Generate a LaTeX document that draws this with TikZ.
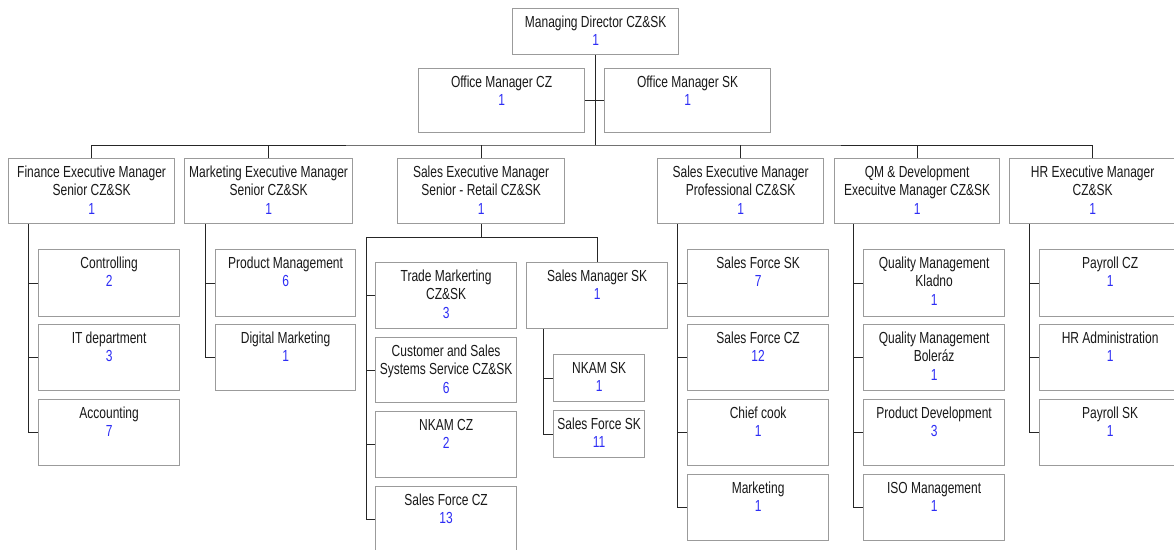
\documentclass[tikz,border=0pt]{standalone}
\usepackage{fontspec}
\setmainfont{Liberation Sans}[FakeStretch=0.75]
\definecolor{numblue}{RGB}{45,45,245}
\definecolor{boxgray}{RGB}{155,155,155}
\definecolor{txt}{RGB}{25,25,25}
\newcommand\nm[1]{\textcolor{numblue}{#1}}
\tikzset{
  obox/.style={draw=boxgray, line width=1.2pt, fill=white, rectangle, inner sep=0pt},
  otext/.style={inner sep=0pt, align=center, text=txt, font=\fontsize{16}{18.3}\selectfont},
  conn/.style={draw=black!85, line width=1pt}
}
\newcommand\obx[6]{%
  \node[obox, minimum width={#4-#2}, minimum height={#5-#3}, anchor=north west] (#1) at (#2,#3) {};
  \node[otext, anchor=north] (#1-t) at ([yshift=-6pt]#1.north) {\rule{0pt}{13.3pt}#6};
}
\begin{document}
\begin{tikzpicture}[x=1pt,y=-1pt]
\useasboundingbox (0,0) rectangle (1174,549);
\clip (0,0) rectangle (1174,549);
\fill[white] (0,0) rectangle (1174,549);

\coordinate (bus) at (595,145);
\coordinate (srl) at (366,237);

\obx{md}{512}{8}{678}{54}{Managing Director CZ\&SK\\\nm{1}}
\obx{omcz}{418}{68}{584}{132}{Office Manager CZ\\\nm{1}}
\obx{omsk}{604}{68}{770}{132}{Office Manager SK\\\nm{1}}

\obx{fin}{8}{158}{174}{223}{Finance Executive Manager\\Senior CZ\&SK\\\nm{1}}
\obx{mkt}{184}{158}{352}{223}{Marketing Executive Manager\\Senior CZ\&SK\\\nm{1}}
\obx{sr}{397}{158}{564}{223}{Sales Executive Manager\\Senior - Retail CZ\&SK\\\nm{1}}
\obx{sp}{657}{158}{823}{223}{Sales Executive Manager\\Professional CZ\&SK\\\nm{1}}
\obx{qm}{834}{158}{999}{223}{QM \& Development\\Execuitve Manager CZ\&SK\\\nm{1}}
\obx{hr}{1009}{158}{1175}{223}{HR Executive Manager\\CZ\&SK\\\nm{1}}

\obx{fc1}{38}{249}{179}{316}{Controlling\\\nm{2}}
\obx{fc2}{38}{324}{179}{390}{IT department\\\nm{3}}
\obx{fc3}{38}{399}{179}{465}{Accounting\\\nm{7}}

\obx{mc1}{215}{249}{355}{316}{Product Management\\\nm{6}}
\obx{mc2}{215}{324}{355}{390}{Digital Marketing\\\nm{1}}

\obx{sc1}{375}{262}{516}{328}{Trade Markerting\\CZ\&SK\\\nm{3}}
\obx{sc2}{375}{337}{516}{402}{Customer and Sales\\Systems Service CZ\&SK\\\nm{6}}
\obx{sc3}{375}{411}{516}{477}{NKAM CZ\\\nm{2}}
\obx{sc4}{375}{486}{516}{552}{Sales Force CZ\\\nm{13}}

\obx{smsk}{526}{262}{667}{328}{Sales Manager SK\\\nm{1}}
\obx{nk}{553}{354}{644}{401}{NKAM SK\\\nm{1}}
\obx{sfsk}{553}{410}{644}{457}{Sales Force SK\\\nm{11}}

\obx{pc1}{687}{249}{828}{316}{Sales Force SK\\\nm{7}}
\obx{pc2}{687}{324}{828}{390}{Sales Force CZ\\\nm{12}}
\obx{pc3}{687}{399}{828}{465}{Chief cook\\\nm{1}}
\obx{pc4}{687}{474}{828}{540}{Marketing\\\nm{1}}

\obx{qc1}{863}{249}{1004}{316}{Quality Management\\Kladno\\\nm{1}}
\obx{qc2}{863}{324}{1004}{390}{Quality Management\\Boleráz\\\nm{1}}
\obx{qc3}{863}{399}{1004}{465}{Product Development\\\nm{3}}
\obx{qc4}{863}{474}{1004}{540}{ISO Management\\\nm{1}}

\obx{hc1}{1039}{249}{1180}{316}{Payroll CZ\\\nm{1}}
\obx{hc2}{1039}{324}{1180}{390}{HR Administration\\\nm{1}}
\obx{hc3}{1039}{399}{1180}{465}{Payroll SK\\\nm{1}}

% top connectors
\draw[conn] (md.south) -- (md.south |- bus);
\draw[conn] (omcz.east) -- (omsk.west);
\draw[conn] (fin.north) |- (bus) -| (hr.north);
\foreach \n in {mkt,sr,sp,qm} \draw[conn] (\n.north) -- (\n.north |- bus);

% children connectors
\foreach \c in {fc1,fc2,fc3} \draw[conn] ([xshift=20pt]fin.south west) |- (\c.west);
\foreach \c in {mc1,mc2} \draw[conn] ([xshift=21pt]mkt.south west) |- (\c.west);
\draw[conn] (sr.south) |- (srl);
\draw[conn] (srl) -| (smsk.north);
\foreach \c in {sc1,sc2,sc3,sc4} \draw[conn] (srl) |- (\c.west);
\foreach \c in {nk,sfsk} \draw[conn] ([xshift=17pt]smsk.south west) |- (\c.west);
\foreach \c in {pc1,pc2,pc3,pc4} \draw[conn] ([xshift=20pt]sp.south west) |- (\c.west);
\foreach \c in {qc1,qc2,qc3,qc4} \draw[conn] ([xshift=19pt]qm.south west) |- (\c.west);
\foreach \c in {hc1,hc2,hc3} \draw[conn] ([xshift=20pt]hr.south west) |- (\c.west);
\end{tikzpicture}
\end{document}
